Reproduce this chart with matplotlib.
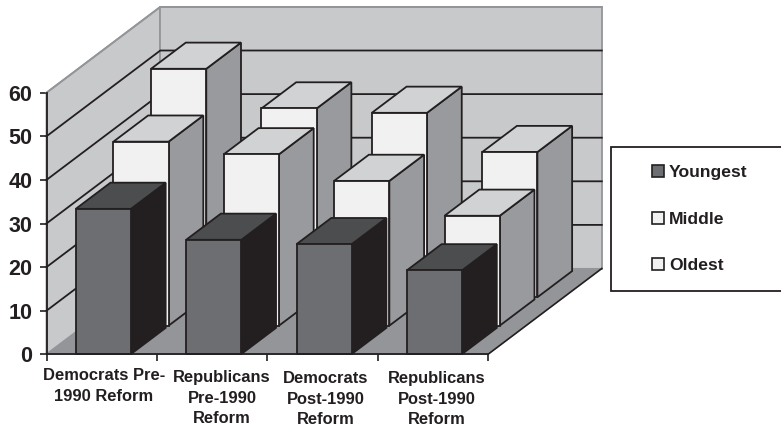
import matplotlib
matplotlib.use("Agg")
import matplotlib.pyplot as plt
from matplotlib.patches import Polygon, Patch, Rectangle

plt.rcParams["font.family"] = ["Liberation Sans", "DejaVu Sans"]
plt.rcParams["font.weight"] = "bold"

categories = ["Democrats Pre-\n1990 Reform", "Republicans\nPre-1990\nReform",
              "Democrats\nPost-1990\nReform", "Republicans\nPost-1990\nReform"]
series_names = ["Youngest", "Middle", "Oldest"]
youngest = [33.3, 26.2, 25.2, 19.2]
middle = [42.2, 39.3, 33.2, 25.2]
oldest = [52.4, 43.3, 42.3, 33.3]
y_ticks = [0, 10, 20, 30, 40, 50, 60]

INK = "#231f20"
WALL = "#c8c9cb"
FLOOR = "#939598"
EDGE = "#939598"
DARK_FACES = ("#6d6e71", "#4b4d4f", "#231f20")
LIGHT_FACES = ("#f1f1f2", "#d0d2d3", "#999a9e")

W, H = 781, 430
fig = plt.figure(figsize=(W / 100, H / 100), dpi=100, facecolor="white")
X0, X1, Y0, Y60 = 46.5, 488.0, 354.3, 92.7
ax = fig.add_axes([X0 / W, 1 - Y0 / H, (X1 - X0) / W, (Y0 - Y60) / H])
ax.set_xlim(0, 4)
ax.set_ylim(0, 60)
ax.patch.set_alpha(0)

# Oblique projection: a unit of depth moves a point right and up in data units.
DEPTH_X = 113.8 / ((X1 - X0) / 4)
DEPTH_Y = 85.8 / ((Y0 - Y60) / 60)


def proj(x, v, d):
    return (x + DEPTH_X * d, v + DEPTH_Y * d)


def face(points, fc, ec=INK, lw=1.3, z=1):
    ax.add_patch(Polygon([proj(*p) for p in points], closed=True, facecolor=fc,
                         edgecolor=ec, linewidth=lw, joinstyle="miter",
                         clip_on=False, zorder=z))


# Walls and floor
face([(0, 0, 0), (0, 60, 0), (0, 60, 1), (0, 0, 1)], WALL, EDGE, 1.3, 1)
face([(0, 0, 1), (0, 60, 1), (4, 60, 1), (4, 0, 1)], WALL, EDGE, 1.3, 1)
face([(0, 0, 0), (4, 0, 0), (4, 0, 1), (0, 0, 1)], FLOOR, EDGE, 0.8, 1)
ax.plot(*zip(proj(4, 0, 0), proj(4, 0, 1)), color=INK, lw=1.2, clip_on=False, zorder=2)

# Gridlines run along the side wall and across the back wall
for v in y_ticks[1:]:
    pts = [proj(0, v, 0), proj(0, v, 1), proj(4, v, 1)]
    col = EDGE if v == 60 else INK
    ax.plot(*zip(*pts), color=col, lw=1.3, clip_on=False, zorder=2,
            solid_joinstyle="miter")

# Bars, back row first so nearer rows overlap them
BAR_W = 0.5
BAR_D = 0.305
ROW_STEP = 0.331
rows = [(oldest, 2, LIGHT_FACES), (middle, 1, LIGHT_FACES), (youngest, 0, DARK_FACES)]
z = 3
for values, row, (front, top, side) in rows:
    d0 = row * ROW_STEP + 0.003
    d1 = d0 + BAR_D
    for i, v in enumerate(values):
        x0 = i + 0.25 + 0.012
        x1 = x0 + BAR_W
        face([(x1, 0, d0), (x1, v, d0), (x1, v, d1), (x1, 0, d1)], side, z=z)
        face([(x0, v, d0), (x1, v, d0), (x1, v, d1), (x0, v, d1)], top, z=z)
        face([(x0, 0, d0), (x1, 0, d0), (x1, v, d0), (x0, v, d0)], front, z=z)
        z += 1

# Axes
for s in ("top", "right"):
    ax.spines[s].set_visible(False)
for s in ("left", "bottom"):
    ax.spines[s].set_color(INK)
    ax.spines[s].set_linewidth(1.3)
    ax.spines[s].set_zorder(40)
ax.set_yticks(y_ticks)
ax.set_xticks(range(5))
ax.set_xticklabels([])
ax.tick_params(axis="both", length=5, width=1.2, color=INK, pad=5)
ax.tick_params(axis="y", labelsize=15.5, labelcolor=INK)

# Category labels sit below the axis with small individual nudges
label_nudge = [(0.5 + 2 / 110.4, 0), (0.5 + 10 / 110.4, -2), (0.5 + 3.5 / 110.4, -3), (0.5 + 4 / 110.4, -3)]
for i, (text, (nx, ny)) in enumerate(zip(categories, label_nudge)):
    ax.annotate(text, xy=(i + nx, 0), xytext=(0, -14 + ny), xycoords="data",
                textcoords="offset pixels", ha="center", va="top", fontsize=11.9,
                color=INK, linespacing=1.45, annotation_clip=False)

# Legend box runs off the right edge of the figure
fig.add_artist(Rectangle((611 / W, 1 - 290.7 / H), 200 / W, 143.4 / H,
                         transform=fig.transFigure, facecolor="white",
                         edgecolor=INK, linewidth=1.3, clip_on=True, zorder=5))
handles = [Patch(facecolor=DARK_FACES[0], edgecolor=INK, linewidth=1.2),
           Patch(facecolor=LIGHT_FACES[0], edgecolor=INK, linewidth=1.2),
           Patch(facecolor=LIGHT_FACES[0], edgecolor=INK, linewidth=1.2)]
leg = fig.legend(handles, series_names, loc="center left",
                 bbox_to_anchor=(651.5 / W, 1 - 219.2 / H), frameon=False, fontsize=12.6,
                 handlelength=0.7, handleheight=0.7, handletextpad=0.3,
                 labelspacing=1.78, borderaxespad=0, borderpad=0, labelcolor=INK)
leg.set_zorder(6)

fig.savefig("out.png", dpi=100)
